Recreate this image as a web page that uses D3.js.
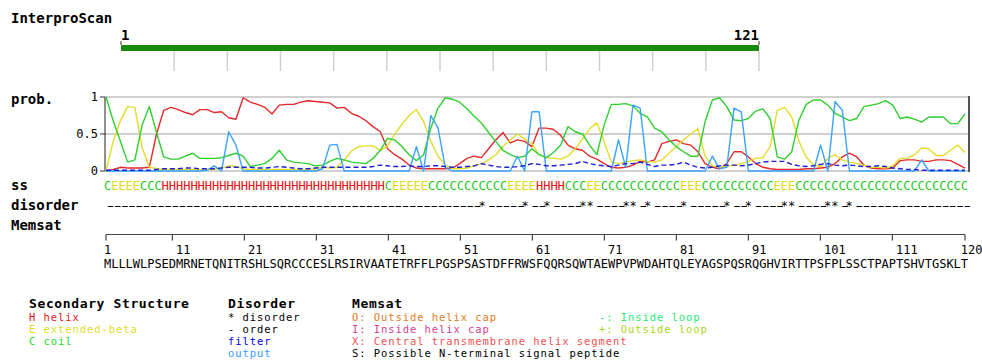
<!DOCTYPE html>
<html><head><meta charset="utf-8">
<script src="https://cdn.jsdelivr.net/npm/d3@7"></script>
<style>
body{margin:0;background:#fff;}
svg{display:block;}
text{font-family:"DejaVu Sans Mono",monospace;}
</style></head><body>
<svg id="c" width="982" height="360"></svg>
<script>
// ---------------- data ----------------
const sequence = "MLLLWLPSEDMRNETQNITRSHLSQRCCCESLRSIRVAATETRFFLPGSPSASTDFFRWSFQQRSQWTAEWPVPWDAHTQLEYAGSPQSRQGHVIRTTPSFPLSSCTPAPTSHVTGSKLT";
const ssString = "CEEEECCCHHHHHHHHHHHHHHHHHHHHHHHHHHHHHHHCEEEEECCCCCCCCCCCEEEEHHHHCCCEECCCCCCCCCCCEEECCCCCCCCCCEEECCCCCCCCCCCCCCCCCCCCCCCC";
const disorderString = "----------------------------------------------------*-----*--*----**----**-*----*-----*--*----**----**-*----------------";

const coilProb = [1.0,0.68,0.4,0.12,0.15,0.62,0.87,0.52,0.19,0.16,
0.16,0.2,0.24,0.17,0.17,0.17,0.18,0.21,0.24,0.2,
0.06,0.08,0.1,0.17,0.28,0.15,0.12,0.11,0.1,0.07,
0.08,0.13,0.17,0.15,0.12,0.11,0.1,0.17,0.28,0.44,
0.42,0.33,0.22,0.14,0.22,0.58,0.85,0.99,0.97,0.93,
0.84,0.74,0.65,0.52,0.4,0.28,0.22,0.18,0.2,0.3,
0.22,0.18,0.25,0.35,0.6,0.53,0.5,0.35,0.22,0.62,
0.9,0.9,0.91,0.88,0.78,0.73,0.58,0.53,0.42,0.33,
0.26,0.2,0.2,0.67,0.96,0.99,0.87,0.69,0.68,0.71,
0.81,0.84,0.71,0.19,0.16,0.26,0.69,0.9,0.96,0.96,
0.89,0.78,0.73,0.68,0.71,0.87,0.89,0.91,0.95,0.89,
0.71,0.73,0.7,0.66,0.73,0.73,0.73,0.64,0.64,0.77];

const helixProb = [0.0,0.02,0.05,0.04,0.04,0.04,0.05,0.5,0.82,0.86,
0.83,0.79,0.76,0.83,0.83,0.79,0.8,0.72,0.7,0.99,
0.93,0.9,0.86,0.77,0.89,0.9,0.9,0.93,0.95,0.94,
0.93,0.92,0.85,0.86,0.78,0.74,0.68,0.6,0.53,0.3,
0.22,0.16,0.08,0.04,0.03,0.03,0.03,0.03,0.04,0.1,
0.17,0.2,0.18,0.3,0.42,0.52,0.38,0.42,0.4,0.33,
0.58,0.58,0.56,0.48,0.35,0.3,0.28,0.2,0.16,0.1,
0.05,0.04,0.05,0.08,0.13,0.12,0.15,0.37,0.4,0.42,
0.37,0.35,0.26,0.1,0.05,0.03,0.1,0.26,0.26,0.19,
0.1,0.05,0.03,0.02,0.02,0.02,0.02,0.03,0.03,0.04,
0.05,0.1,0.19,0.24,0.19,0.08,0.04,0.03,0.03,0.04,
0.14,0.15,0.15,0.13,0.13,0.15,0.15,0.14,0.09,0.04];

const strandProb = [0.0,0.4,0.68,0.87,0.86,0.32,0.05,0.03,0.02,0.02,
0.02,0.02,0.02,0.02,0.02,0.02,0.04,0.07,0.06,0.03,
0.02,0.02,0.02,0.02,0.02,0.02,0.02,0.02,0.02,0.03,
0.05,0.04,0.05,0.15,0.27,0.33,0.34,0.34,0.28,0.34,
0.5,0.63,0.75,0.83,0.67,0.4,0.2,0.08,0.03,0.03,
0.04,0.07,0.1,0.15,0.22,0.33,0.42,0.5,0.43,0.37,
0.22,0.18,0.17,0.16,0.2,0.3,0.43,0.57,0.65,0.4,
0.12,0.1,0.12,0.14,0.15,0.13,0.12,0.15,0.24,0.33,
0.42,0.5,0.57,0.2,0.07,0.05,0.06,0.08,0.1,0.13,
0.17,0.18,0.33,0.82,0.86,0.73,0.4,0.19,0.08,0.06,
0.17,0.22,0.15,0.12,0.1,0.08,0.05,0.05,0.04,0.07,
0.17,0.17,0.22,0.31,0.3,0.21,0.21,0.28,0.35,0.25];

const filterProb = [0.01,0.01,0.01,0.01,0.01,0.01,0.01,0.02,0.03,0.03,
0.03,0.04,0.04,0.03,0.03,0.03,0.04,0.05,0.05,0.05,
0.05,0.04,0.04,0.05,0.06,0.05,0.04,0.03,0.03,0.04,
0.05,0.05,0.05,0.05,0.05,0.05,0.05,0.06,0.08,0.07,
0.06,0.06,0.07,0.06,0.06,0.07,0.07,0.06,0.05,0.05,
0.06,0.07,0.1,0.08,0.06,0.05,0.05,0.06,0.07,0.1,
0.09,0.07,0.07,0.08,0.09,0.1,0.13,0.1,0.08,0.07,
0.06,0.08,0.1,0.1,0.12,0.09,0.06,0.08,0.08,0.09,
0.12,0.08,0.05,0.04,0.05,0.07,0.08,0.08,0.07,0.08,
0.1,0.12,0.13,0.13,0.13,0.09,0.07,0.06,0.07,0.09,
0.1,0.08,0.07,0.08,0.07,0.06,0.06,0.07,0.06,0.04,
0.03,0.02,0.02,0.01,0.01,0.01,0.01,0.01,0.01,0.01];

const outputProb = [0,0,0,0,0,0,0,0,0,0,
0,0,0,0,0.01,0.07,0.0,0.53,0.35,0.0,
0,0,0,0,0,0,0,0,0,0,
0.03,0.35,0.36,0.0,0,0,0,0,0,0,
0,0,0,0.33,0.0,0.75,0.58,0.05,0,0,
0,0,0,0,0,0,0,0.2,0.0,0.8,
0.8,0.0,0,0,0,0,0,0,0,0,
0,0.42,0.05,0.89,0.85,0.0,0,0,0,0,
0,0,0,0,0.2,0.03,0.05,0.85,0.8,0.0,
0,0,0,0,0,0,0,0,0,0.35,
0.0,0.94,0.82,0.0,0,0,0,0,0,0,
0,0,0,0.15,0.0,0,0,0,0,0];

const yTicks = [0, 0.5, 1];
const yTickLabels = ["0", "0.5", "1"];
const seqTicks = [1, 11, 21, 31, 41, 51, 61, 71, 81, 91, 101, 111, 120];
const interproRange = [1, 121];
const interproTicks = [11, 21, 31, 41, 51, 61, 71, 81, 91, 101, 111, 121];
const rowLabels = ["InterproScan", "prob.", "ss", "disorder", "Memsat"];

const legendHeaders = ["Secondary Structure", "Disorder", "Memsat"];
const legendSS = ["H helix", "E extended-beta", "C coil"];
const legendDisorder = ["* disorder", "- order", "filter", "output"];
const legendMemsat = ["O: Outside helix cap", "I: Inside helix cap", "X: Central transmembrane helix segment", "S: Possible N-terminal signal peptide"];
const legendMemsat2 = ["-: Inside loop", "+: Outside loop"];

// ---------------- styles ----------------
const C_HELIX = "#e32a2a", C_STRAND = "#e3dc2a", C_COIL = "#2fcf2f",
      C_FILTER = "#1f1fd9", C_OUTPUT = "#3aa2ff";
const ssColor = {H: "#e01010", E: "#e0da10", C: "#22cc22"};

const svg = d3.select("#c");
const N = sequence.length;

// row labels
const labelY = [23, 104, 190, 210, 230];
svg.selectAll("text.rowlabel").data(rowLabels).join("text")
  .attr("class","rowlabel").attr("x", 11).attr("y", (d,i)=>labelY[i])
  .attr("font-size", 14).attr("font-weight", "bold").attr("fill", "#000").text(d=>d);

// ---------------- InterproScan bar ----------------
const xi = d3.scaleLinear().domain(interproRange).range([121, 759]);
svg.selectAll("line.iptick").data(interproTicks).join("line")
  .attr("x1", d=>xi(d)).attr("x2", d=>xi(d)).attr("y1", 51).attr("y2", 71)
  .attr("stroke", "#cfcfcf").attr("stroke-width", 1.5);
svg.append("rect").attr("x", xi(interproRange[0])).attr("y", 45)
  .attr("width", xi(interproRange[1]) - xi(interproRange[0])).attr("height", 6)
  .attr("fill", "#188a0c");
svg.selectAll("line.ipend").data(interproRange).join("line")
  .attr("x1", d=>xi(d)).attr("x2", d=>xi(d)).attr("y1", 41).attr("y2", 45)
  .attr("stroke", "#555").attr("stroke-width", 1.2);
svg.append("text").attr("x", xi(interproRange[0])).attr("y", 40)
  .attr("font-size", 14).attr("font-weight","bold").text(interproRange[0]);
svg.append("text").attr("x", xi(interproRange[1])).attr("y", 40).attr("text-anchor","end")
  .attr("font-size", 14).attr("font-weight","bold").text(interproRange[1]);

// ---------------- probability plot ----------------
const xl = d3.scaleLinear().domain([1, N]).range([106, 965]);
const y = d3.scaleLinear().domain([0, 1]).range([171, 97]);
const plotL = 105, plotR = 969;

svg.selectAll("line.grid").data(yTicks).join("line")
  .attr("x1", plotL).attr("x2", plotR).attr("y1", d=>y(d)).attr("y2", d=>y(d))
  .attr("stroke", "#d0d0d0").attr("stroke-width", 2);
svg.selectAll("line.ytick").data(yTicks).join("line")
  .attr("x1", 100).attr("x2", plotL).attr("y1", d=>y(d)).attr("y2", d=>y(d))
  .attr("stroke", "#333").attr("stroke-width", 1);
svg.append("line").attr("x1", plotL).attr("x2", plotL).attr("y1", y(1)).attr("y2", y(0))
  .attr("stroke", "#222").attr("stroke-width", 1);
svg.append("line").attr("x1", plotR).attr("x2", plotR).attr("y1", y(1)-1).attr("y2", y(0)+1)
  .attr("stroke", "#555").attr("stroke-width", 2);
svg.selectAll("text.ylab").data(yTicks).join("text")
  .attr("x", 98).attr("y", d=>y(d)+4).attr("text-anchor","end")
  .attr("font-size", 12).attr("fill","#000").text((d,i)=>yTickLabels[i]);

const line = d3.line().x((d,i)=>xl(i+1)).y(d=>y(d));
const series = [
  {v: helixProb, c: C_HELIX, dash: null},
  {v: strandProb, c: C_STRAND, dash: null},
  {v: coilProb, c: C_COIL, dash: null},
  {v: outputProb, c: C_OUTPUT, dash: null},
  {v: filterProb, c: C_FILTER, dash: "5,3"}
];
svg.selectAll("path.ser").data(series).join("path")
  .attr("d", d=>line(d.v)).attr("fill","none").attr("stroke", d=>d.c)
  .attr("stroke-width", 1.4).attr("stroke-dasharray", d=>d.dash)
  .attr("stroke-linejoin","round");

// ---------------- character rows ----------------
const xs = d3.scaleLinear().domain([1, N+1]).range([104, 968]);
const cellW = xs(2) - xs(1);
const ssChars = ssString.split("");
svg.selectAll("text.ss").data(ssChars).join("text")
  .attr("x", (d,i)=>xs(i+1)).attr("y", 190).attr("font-size", 12)
  .attr("fill", d=>ssColor[d]).text(d=>d);

// disorder: runs of identical characters; dash runs use wide, stretched hyphens
const runs = [];
disorderString.split("").forEach((ch, i) => {
  const last = runs[runs.length-1];
  if (last && last.ch === ch) last.text += ch; else runs.push({ch, start: i+1, text: ch});
});
// measure hyphen advance in the proportional font
const probe = svg.append("text").attr("font-family","DejaVu Sans").attr("font-size",12)
  .attr("x",-100).attr("y",-100).text("----------");
const hyAdv = probe.node().getComputedTextLength() / 10;
probe.remove();
const dashScale = 1.8;
const monoAdv = 12 * 0.602;
svg.selectAll("text.dis").data(runs).join("text")
  .attr("class","dis")
  .attr("font-size", 12).attr("fill","#000")
  .attr("font-family", d => d.ch === "-" ? "DejaVu Sans" : null)
  .attr("transform", d => d.ch === "-"
      ? `translate(${xs(d.start)},209.5) scale(${dashScale},1)`
      : `translate(${xs(d.start)},210)`)
  .attr("letter-spacing", d => d.ch === "-" ? (cellW/dashScale - hyAdv) : (cellW - monoAdv))
  .text(d=>d.text);

// sequence axis
const axisY = 234.5;
svg.append("line").attr("x1", 106).attr("x2", 965).attr("y1", axisY).attr("y2", axisY)
  .attr("stroke", "#444").attr("stroke-width", 1.2);
const tickX = d => d === seqTicks[0] ? 106 : (d === seqTicks[seqTicks.length-1] ? 965 : xs(d - 0.5));
svg.selectAll("line.stick").data(seqTicks).join("line")
  .attr("x1", tickX).attr("x2", tickX).attr("y1", axisY).attr("y2", axisY+6)
  .attr("stroke", "#444").attr("stroke-width", 1.2);
svg.selectAll("text.slab").data(seqTicks).join("text")
  .attr("x", d=>xs(d)).attr("y", 254).attr("font-size", 12).attr("fill","#000").text(d=>d);

svg.selectAll("text.seq").data(sequence.split("")).join("text")
  .attr("x", (d,i)=>xs(i+1)).attr("y", 268).attr("font-size", 12).attr("fill","#000").text(d=>d);

// ---------------- legend ----------------
const legX = [29, 228, 352];
const legHeadY = 307.5, legRowY = [320.5, 332.8, 345.1, 357.4];
const legFont = 10.5, legSpacing = 7.25 - legFont*0.602;
const headFont = 13, headSpacing = 8.45 - headFont*0.602;
svg.selectAll("text.lh").data(legendHeaders).join("text")
  .attr("x", (d,i)=>legX[i]).attr("y", legHeadY).attr("font-size", headFont)
  .attr("letter-spacing", headSpacing).attr("font-weight","bold").text(d=>d);
const ssLegColors = ["#e8141e", "#dede1e", "#22dd22"];
svg.selectAll("text.lss").data(legendSS).join("text")
  .attr("x", legX[0]).attr("y", (d,i)=>legRowY[i]).attr("font-size", legFont).attr("letter-spacing", legSpacing)
  .attr("fill", (d,i)=>ssLegColors[i]).text(d=>d);
const disLegColors = ["#000", "#000", "#0000ee", "#3399ff"];
svg.selectAll("text.ldis").data(legendDisorder).join("text")
  .attr("x", legX[1]).attr("y", (d,i)=>legRowY[i]).attr("font-size", legFont).attr("letter-spacing", legSpacing)
  .attr("fill", (d,i)=>disLegColors[i]).text(d=>d);
const memLegColors = ["#e07b22", "#d4418e", "#f05050", "#000"];
svg.selectAll("text.lmem").data(legendMemsat).join("text")
  .attr("x", legX[2]).attr("y", (d,i)=>legRowY[i]).attr("font-size", legFont).attr("letter-spacing", legSpacing)
  .attr("fill", (d,i)=>memLegColors[i]).text(d=>d);
const mem2Colors = ["#22e87a", "#a8d820"];
svg.selectAll("text.lmem2").data(legendMemsat2).join("text")
  .attr("x", 599).attr("y", (d,i)=>legRowY[i]).attr("font-size", legFont).attr("letter-spacing", legSpacing)
  .attr("fill", (d,i)=>mem2Colors[i]).text(d=>d);
</script>
</body></html>
